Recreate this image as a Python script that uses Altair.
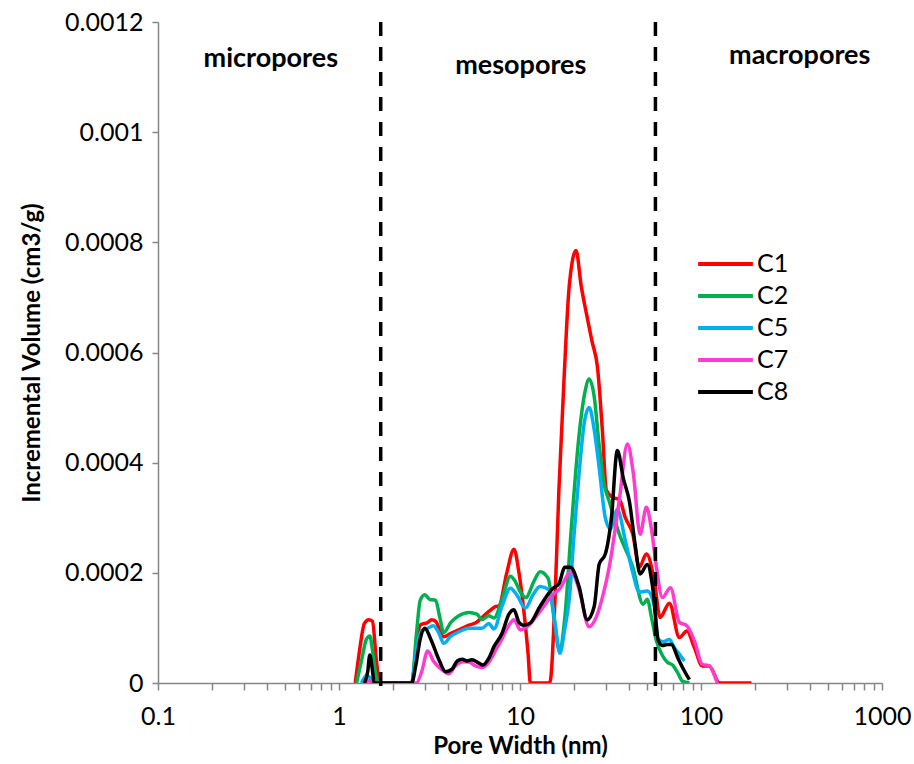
import altair as alt
import pandas as pd

# ---- data (pore width in nm, incremental volume in cm3/g) ----
c1_x = [1.23, 1.30, 1.38, 1.46, 1.53, 1.61, 1.68, 2.52, 2.68, 2.81, 3.09, 3.25, 3.42, 3.79, 4.15, 4.59, 5.22, 5.67,
        6.73, 7.35, 7.65, 8.45, 9.26, 9.87, 10.5, 11.1, 11.4, 14.6, 15.6, 16.4, 17.5, 18.7, 20.4, 21.8, 23.3, 25.0,
        26.8, 28.5, 30.0, 32.5, 35.4, 38.2, 42.0, 45.6, 49.9, 55.3, 59.4, 66.9, 76.0, 83.5, 92.0, 101.5, 111.0,
        126.6, 190.0]
c1_y = [0, 0.00006, 0.000108, 0.000115, 0.000112, 0.00004, 0, 0, 0.00007, 0.000105, 0.00011, 0.000115, 0.000112,
        0.000084, 0.00009, 0.0000964, 0.000105, 0.000109, 0.00013, 0.000139, 0.00014, 0.0002, 0.000243, 0.0002,
        0.000131, 0.00005, 0, 0, 0.00015, 0.00035, 0.00055, 0.00072, 0.000785, 0.00072, 0.00067, 0.00062, 0.000573,
        0.00046, 0.00035, 0.000337, 0.000333, 0.0003, 0.00027, 0.00021, 0.000234, 0.000185, 0.000119, 0.000145,
        0.0000824, 0.0000945, 0.000064, 0.000031, 0.000031, 0, 0]

c2_x = [1.25, 1.33, 1.42, 1.48, 1.53, 1.61, 1.68, 2.52, 2.68, 2.81, 2.98, 3.17, 3.42, 3.60, 3.79, 4.15, 4.59, 5.22,
        5.78, 6.16, 6.73, 7.18, 7.95, 8.85, 9.39, 10.05, 10.75, 11.96, 12.9, 14.3, 15.4, 16.5, 17.7, 19.2, 21.2,
        22.9, 24.1, 25.7, 27.4, 29.2, 31.1, 35.4, 42.0, 47.9, 50.5, 53.2, 56.7, 61.2, 65.0, 70.0, 74.5, 79.2, 86.3]
c2_y = [0, 0.00004, 0.00008, 0.0000855, 0.00006, 0.00001, 0, 0, 0.00009, 0.00015, 0.00016, 0.000152, 0.00015,
        0.00012, 0.0000915, 0.00011, 0.000122, 0.000128, 0.000125, 0.000115, 0.000122, 0.000118, 0.000151, 0.000194,
        0.000185, 0.000165, 0.000155, 0.000185, 0.000202, 0.00019, 0.00012, 0.00006, 0.00012, 0.00028, 0.00045,
        0.00053, 0.000552, 0.00052, 0.00043, 0.00036, 0.00033, 0.00027, 0.00021, 0.000143, 0.000152, 0.00012,
        0.0000764, 0.00005, 0.000038, 0.000032, 0.000018, 0.000003, 0]

c5_x = [1.33, 1.42, 1.50, 1.57, 2.52, 2.68, 2.86, 3.03, 3.32, 3.57, 3.79, 4.15, 4.59, 5.22, 5.67, 6.16, 6.73, 7.18,
        7.95, 8.85, 9.6, 10.7, 11.8, 12.9, 14.5, 15.6, 16.6, 17.7, 18.7, 19.9, 21.2, 22.6, 24.1, 25.7, 27.4, 29.6,
        31.6, 34.5, 38.2, 42.0, 45.6, 50.5, 55.3, 57.8, 62.1, 66.9, 71.3, 76.0, 81.0]
c5_y = [0, 0.000013, 0.000008, 0, 0, 0.00006, 0.000095, 0.0000976, 0.000104, 0.00009, 0.000072, 0.000085, 0.000093,
        0.0000994, 0.0000994, 0.0000994, 0.000108, 0.000098, 0.000139, 0.000172, 0.00016, 0.000136, 0.00016,
        0.000175, 0.000169, 0.00011, 0.000054, 0.0001, 0.000151, 0.00027, 0.00038, 0.00047, 0.0005, 0.00046,
        0.00039, 0.0003, 0.00028, 0.000315, 0.000258, 0.0002, 0.000165, 0.000167, 0.000139, 0.00008, 0.000075,
        0.000079, 0.000064, 0.000052, 0.00004]

c7_x = [1.37, 1.46, 1.55, 2.68, 2.86, 3.09, 3.32, 3.72, 4.04, 4.37, 4.80, 5.22, 5.67, 6.16, 6.73, 7.35, 7.95, 8.69,
        9.26, 10.05, 11.2, 12.9, 15.2, 16.4, 19.2, 21.2, 24.1, 26.4, 28.5, 31.1, 35.4, 39.2, 42.3, 46.1, 49.9,
        53.2, 56.7, 61.2, 67.8, 76.0, 83.5, 92.0, 101.5, 111.0, 123.0]
c7_y = [0, 0.000004, 0, 0, 0.00002, 0.000058, 0.00004, 0.0000236, 0.000017, 0.00003, 0.0000387, 0.000038, 0.000031,
        0.000028, 0.000038, 0.00006, 0.00008, 0.000105, 0.000115, 0.0000964, 0.000105, 0.00013, 0.00016, 0.000169,
        0.000202, 0.00017, 0.000102, 0.00012, 0.000155, 0.00021, 0.000333, 0.000434, 0.00038, 0.00027, 0.000319,
        0.00028, 0.000211, 0.000155, 0.000173, 0.00011, 0.000104, 0.0000764, 0.000034, 0.000031, 0]

c8_x = [1.38, 1.44, 1.48, 1.52, 1.57, 2.52, 2.65, 2.81, 2.98, 3.21, 3.57, 3.88, 4.21, 4.50, 4.80, 5.10, 5.42, 5.93,
        6.24, 6.73, 7.18, 7.95, 8.69, 9.26, 9.87, 10.4, 11.3, 12.9, 15.2, 16.4, 17.7, 19.0, 21.2, 23.5, 25.7, 27.4,
        29.6, 32.0, 34.5, 37.3, 40.2, 43.3, 46.1, 50.5, 54.0, 58.2, 61.2, 65.0, 68.6, 74.5, 80.0, 86.3]
c8_y = [0, 0.00002, 0.000051, 0.00003, 0, 0, 0.00003, 0.00008, 0.0000995, 0.00008, 0.0000418, 0.0000206, 0.000025,
        0.00004, 0.000043, 0.00004, 0.000042, 0.000036, 0.0000327, 0.000045, 0.000066, 0.00009, 0.000125, 0.000133,
        0.00011, 0.000105, 0.000108, 0.000139, 0.000172, 0.00018, 0.00021, 0.00021, 0.000175, 0.000115, 0.000139,
        0.000216, 0.000234, 0.0003, 0.000422, 0.00037, 0.00033, 0.00025, 0.000198, 0.000215, 0.000175, 0.0000764,
        0.000068, 0.00007, 0.00007, 0.0000455, 0.000025, 0.000006]

series_names = ["C1", "C2", "C5", "C7", "C8"]
series_colors = ["#FF0000", "#00B050", "#00B0F0", "#FF3CCF", "#000000"]

boundaries = [1.7, 56.0]
region_labels = ["micropores", "mesopores", "macropores"]
region_x = [0.42, 10.1, 351.0]
region_y = [0.001133, 0.00112, 0.001138]

x_ticks = [0.1, 0.2, 0.3, 0.4, 0.5, 0.6, 0.7, 0.8, 0.9,
           1, 2, 3, 4, 5, 6, 7, 8, 9,
           10, 20, 30, 40, 50, 60, 70, 80, 90,
           100, 200, 300, 400, 500, 600, 700, 800, 900, 1000]
y_ticks = [0, 0.0002, 0.0004, 0.0006, 0.0008, 0.001, 0.0012]

# ---- tables ----
rows = []
for name, xs, ys in zip(series_names, [c1_x, c2_x, c5_x, c7_x, c8_x], [c1_y, c2_y, c5_y, c7_y, c8_y]):
    for i, (xv, yv) in enumerate(zip(xs, ys)):
        rows.append({"series": name, "width": xv, "volume": yv, "order": i})
df = pd.DataFrame(rows)
bdf = pd.DataFrame({"b": boundaries, "top": [0.0012] * 2, "bottom": [-0.000014] * 2})
tdf = pd.DataFrame({"label": region_labels, "x": region_x, "y": region_y})

FONT = "Lato"
GRAY = "#868686"

xscale = alt.Scale(type="log", domain=[0.1, 1000], nice=False)
yscale = alt.Scale(domain=[0, 0.0012], nice=False)

lines = alt.Chart(df).mark_line(strokeWidth=3.5, interpolate="monotone", clip=True).encode(
    x=alt.X("width:Q", scale=xscale,
            axis=alt.Axis(title="Pore Width (nm)", values=x_ticks, format="~g",
                          labelExpr="indexof([0.1,1,10,100,1000], datum.value) >= 0 ? datum.label : ''",
                          labelOverlap=False, labelFlush=False, grid=False,
                          domainColor=GRAY, domainWidth=1.5, tickColor=GRAY, tickWidth=1.5, tickSize=7,
                          labelFontSize=25, labelFont=FONT, labelColor="#000", labelPadding=14,
                          titleFont=FONT, titleFontSize=24, titleFontWeight="bold", titleColor="#000",
                          titlePadding=5)),
    y=alt.Y("volume:Q", scale=yscale,
            axis=alt.Axis(title="Incremental Volume (cm3/g)", values=y_ticks, format="~g", grid=False,
                          domainColor=GRAY, domainWidth=1.5, tickColor=GRAY, tickWidth=1.5, tickSize=6,
                          labelFontSize=25, labelFont=FONT, labelColor="#000", labelPadding=9,
                          titleFont=FONT, titleFontSize=24, titleFontWeight="bold", titleColor="#000",
                          titlePadding=20)),
    color=alt.Color("series:N", scale=alt.Scale(domain=series_names, range=series_colors),
                    legend=alt.Legend(title=None, orient="none", legendX=538, legendY=227,
                                      symbolType="stroke", symbolStrokeWidth=4, symbolSize=3000,
                                      clipHeight=30, labelFontSize=25, labelFont=FONT, labelColor="#000",
                                      labelOffset=2)),
    order="order:Q",
)

rules = alt.Chart(bdf).mark_rule(color="#000", strokeWidth=3.5, strokeDash=[14, 11]).encode(
    x=alt.X("b:Q", scale=xscale), y=alt.Y("top:Q", scale=yscale), y2="bottom:Q")

texts = alt.Chart(tdf).mark_text(font=FONT, fontSize=27, fontWeight="bold", color="#000").encode(
    x=alt.X("x:Q", scale=xscale), y=alt.Y("y:Q", scale=yscale), text="label:N")

chart = alt.layer(lines, rules, texts).properties(
    width=724, height=661,
    autosize=alt.AutoSizeParams(type="none"),
    padding={"left": 158, "top": 22, "right": 32, "bottom": 81},
    background="white",
).configure_view(stroke=None)

chart.save("out.html", embed_options={"renderer": "svg", "actions": False})
